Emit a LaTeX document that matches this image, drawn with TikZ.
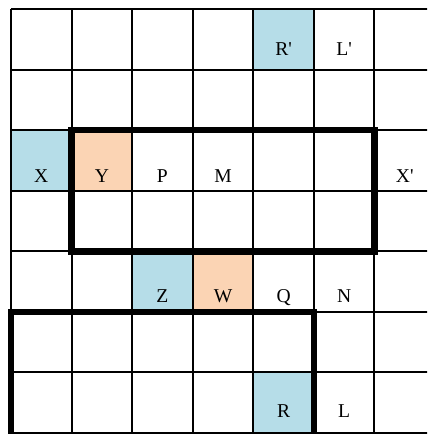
\documentclass[tikz,border=0pt]{standalone}
\usepackage{fontspec}
\setmainfont{Liberation Serif}
\definecolor{cellblue}{HTML}{B6DDE8}
\definecolor{cellpeach}{HTML}{FBD4B4}
\begin{document}
\begin{tikzpicture}[x=1.5cm, y=1.5cm,
        lbl/.style={anchor=base, inner sep=0pt, font=\fontsize{13.8}{16}\selectfont},
        thin grid/.style={line width=1.4pt},
        frame/.style={line width=4.6pt}]
        \useasboundingbox (-0.1816,-0.0165) rectangle (6.868,7.1486);
        \clip (-0.1816,-0.0165) rectangle (6.868,7.1486);

        % Shaded cells
        \fill[cellblue] (4,6) rectangle (5,7);
        \fill[cellblue] (0,4) rectangle (1,5);
        \fill[cellpeach] (1,4) rectangle (2,5);
        \fill[cellblue] (2,2) rectangle (3,3);
        \fill[cellpeach] (3,2) rectangle (4,3);
        \fill[cellblue] (4,0) rectangle (5,1);

        % Grid
        \draw[thin grid, step=1.5cm] (0,0) grid (7,7);

        % Frames
        \draw[frame] (1,3) rectangle (6,5);
        \draw[frame] (0,-1) |- (5,2) -- (5,-1);

        % Top row
        \node[lbl] (Rp) at (4.5,6.23) {R\textquotesingle};
        \node[lbl] (Lp) at (5.5,6.23) {L\textquotesingle};

        % Third row
        \node[lbl] (X) at (0.5,4.13) {X};
        \node[lbl] (Y) at (1.5,4.13) {Y};
        \node[lbl] (P) at (2.5,4.13) {P};
        \node[lbl] (M) at (3.5,4.13) {M};
        \node[lbl] (Xp) at (6.5,4.13) {X\textquotesingle};

        % Fifth row
        \node[lbl] (Z) at (2.5,2.15) {Z};
        \node[lbl] (W) at (3.5,2.15) {W};
        \node[lbl] (Q) at (4.5,2.15) {Q};
        \node[lbl] (N) at (5.5,2.15) {N};

        % Bottom row
        \node[lbl] (R) at (4.5,0.25) {R};
        \node[lbl] (L) at (5.5,0.25) {L};

    \end{tikzpicture}
\end{document}
